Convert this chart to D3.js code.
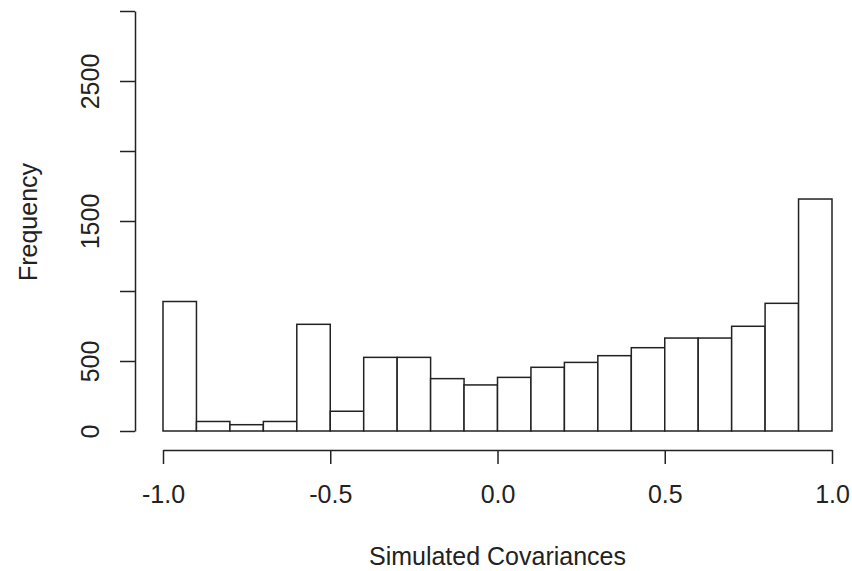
<!DOCTYPE html>
<html>
<head>
<meta charset="utf-8">
<script src="https://cdn.jsdelivr.net/npm/d3@7"></script>
<style>
  body { margin: 0; background: #fff; }
  svg text { font-family: "Liberation Sans", Arial, sans-serif; fill: #222; }
</style>
</head>
<body>
<svg id="chart" width="852" height="571"></svg>
<script>
// histogram bins (width 0.1) and counts
var binStarts = [-1.0, -0.9, -0.8, -0.7, -0.6, -0.5, -0.4, -0.3, -0.2, -0.1,
                 0.0, 0.1, 0.2, 0.3, 0.4, 0.5, 0.6, 0.7, 0.8, 0.9];
var counts = [925, 68, 45, 68, 762, 141, 526, 526, 374, 329,
              383, 455, 490, 538, 595, 664, 664, 748, 912, 1657];
var binWidth = 0.1;
var xTicks = [-1.0, -0.5, 0.0, 0.5, 1.0];
var yTicks = [0, 500, 1000, 1500, 2000, 2500, 3000];
var yLabels = [0, 500, 1500, 2500]; // R skips the ones that would overlap

var svg = d3.select("#chart");

var x = d3.scaleLinear().domain([-1, 1]).range([163, 832]);
var y = d3.scaleLinear().domain([0, 3000]).range([431, 11]);

var bins = binStarts.map((s, i) => ({x0: s, x1: s + binWidth, n: counts[i]}));

// bars
svg.append("g")
  .selectAll("rect")
  .data(bins)
  .join("rect")
    .attr("x", d => x(d.x0))
    .attr("y", d => y(d.n))
    .attr("width", d => x(d.x1) - x(d.x0))
    .attr("height", d => y(0) - y(d.n))
    .attr("fill", "#fff")
    .attr("stroke", "#222")
    .attr("stroke-width", 1.5);

// x axis, detached below the bars like base R (plain hyphen for minus)
var gx = svg.append("g")
  .attr("transform", "translate(0,450)")
  .call(d3.axisBottom(x).tickValues(xTicks).tickSize(14).tickSizeOuter(0)
    .tickFormat(d => d.toFixed(1)));
gx.select(".domain").attr("stroke", "#222").attr("stroke-width", 1.5);
gx.selectAll(".tick line").attr("stroke", "#222").attr("stroke-width", 1.5);
gx.selectAll(".tick text")
  .attr("y", 53).attr("dy", null)
  .style("font-size", "25px");

// y axis
var gy = svg.append("g")
  .attr("transform", "translate(135,0)")
  .call(d3.axisLeft(y).tickValues(yTicks).tickSize(15).tickSizeOuter(0)
    .tickFormat(d => yLabels.includes(d) ? d : ""));
gy.select(".domain").attr("stroke", "#222").attr("stroke-width", 1.5);
gy.selectAll(".tick line").attr("stroke", "#222").attr("stroke-width", 1.5);
gy.selectAll(".tick text")
  .attr("x", null).attr("dy", null)
  .attr("text-anchor", "middle")
  .attr("transform", "translate(-36,0) rotate(-90)")
  .style("font-size", "25px");

// axis titles
svg.append("text")
  .attr("x", (x(-1) + x(1)) / 2)
  .attr("y", 565)
  .attr("text-anchor", "middle")
  .style("font-size", "25px")
  .text("Simulated Covariances");

svg.append("text")
  .attr("transform", "translate(37,222) rotate(-90)")
  .attr("text-anchor", "middle")
  .style("font-size", "25px")
  .text("Frequency");
</script>
</body>
</html>
